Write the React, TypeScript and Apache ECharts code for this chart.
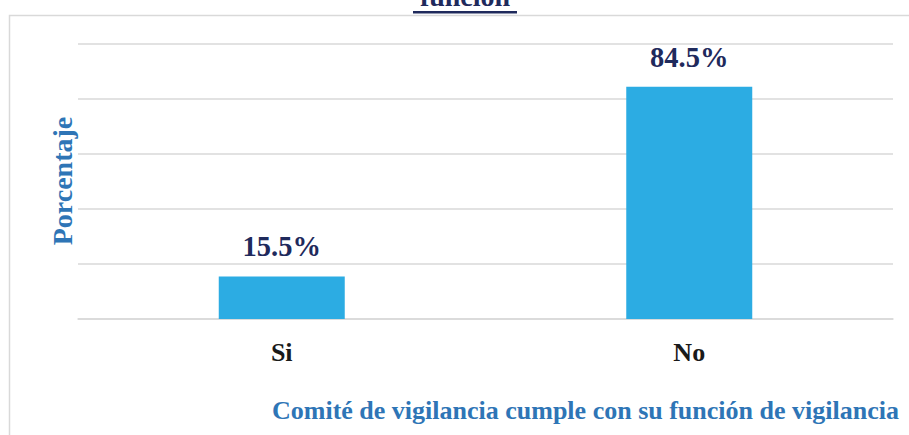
import React, { useEffect, useRef } from "react";
import * as echarts from "echarts";

const categories = ["Si", "No"];
const values = [15.5, 84.5];
const yTicks = { min: 0, max: 100, interval: 20 };
const titleText = "función";
const xAxisTitle = "Comité de vigilancia cumple con su función de vigilancia";
const yAxisTitle = "Porcentaje";

const FONT = "Liberation Serif";
const NAVY = "#1F2A5C";
const BLUE = "#2E75B6";
const BAR = "#2CACE3";
const GRID = "#D9D9D9";

export default function App() {
  const ref = useRef<HTMLDivElement>(null);
  useEffect(() => {
    if (!ref.current) return;
    const chart = echarts.init(ref.current, undefined, { renderer: "svg" });
    chart.setOption({
      animation: false,
      grid: { left: 78, right: 16, top: 44, bottom: 116 },
      xAxis: {
        type: "category",
        data: categories,
        axisLine: { show: true, lineStyle: { color: GRID, width: 1.5 } },
        axisTick: { show: false },
        axisLabel: {
          color: "#1a1a1a",
          fontFamily: FONT,
          fontWeight: "bold",
          fontSize: 26,
          margin: 20,
        },
      },
      yAxis: {
        type: "value",
        min: yTicks.min,
        max: yTicks.max,
        interval: yTicks.interval,
        axisLabel: { show: false },
        axisLine: { show: false },
        axisTick: { show: false },
        splitLine: { lineStyle: { color: GRID, width: 1.5 } },
      },
      series: [
        {
          type: "bar",
          data: values,
          barWidth: 126,
          itemStyle: { color: BAR },
          label: {
            show: true,
            position: "top",
            distance: 15,
            formatter: (p: any) => p.value.toFixed(1) + "%",
            color: NAVY,
            fontFamily: FONT,
            fontWeight: "bold",
            fontSize: 28.5,
          },
        },
      ],
      graphic: [
        {
          type: "polyline",
          shape: { points: [[9.5, 440], [9.5, 15.5], [920, 15.5]] },
          style: { stroke: GRID, lineWidth: 1.5, fill: null },
          silent: true,
        },
        {
          type: "text",
          x: 465,
          y: 10,
          style: {
            text: titleText,
            fontFamily: FONT,
            fontWeight: "bold",
            fontSize: 28,
            fill: NAVY,
            align: "center",
            verticalAlign: "bottom",
          },
        },
        {
          type: "rect",
          shape: { x: 413, y: 11, width: 104, height: 2.5 },
          style: { fill: NAVY },
        },
        {
          type: "text",
          x: 62,
          y: 181,
          rotation: Math.PI / 2,
          style: {
            text: yAxisTitle,
            fontFamily: FONT,
            fontWeight: "bold",
            fontSize: 28,
            fill: BLUE,
            align: "center",
            verticalAlign: "middle",
          },
        },
        {
          type: "text",
          x: 272,
          y: 410,
          style: {
            text: xAxisTitle,
            fontFamily: FONT,
            fontWeight: "bold",
            fontSize: 26,
            fill: BLUE,
            align: "left",
            verticalAlign: "middle",
          },
        },
      ],
    });
    return () => chart.dispose();
  }, []);
  return (
    <div
      ref={ref}
      style={{ position: "absolute", left: 0, top: 0, width: 909, height: 435 }}
    />
  );
}
